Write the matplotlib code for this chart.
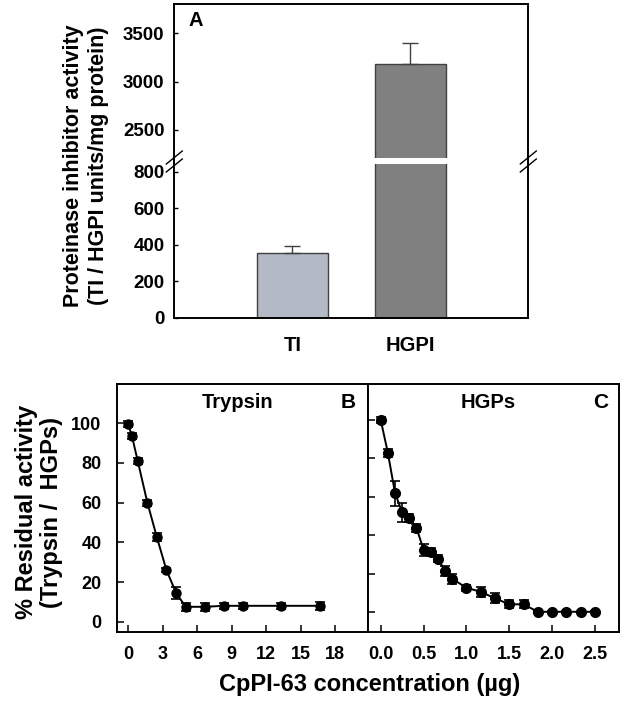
import matplotlib
matplotlib.use("Agg")
import matplotlib.pyplot as plt
from matplotlib.lines import Line2D

plt.rcParams['font.family'] = ['Liberation Sans', 'DejaVu Sans']
plt.rcParams['font.weight'] = 'bold'

# ---------------- data ----------------
cat_a = ["TI", "HGPI"]
val_a = [355, 3180]
err_a = [40, 215]
col_a = ["#b3b9c5", "#808080"]

yt_low = [0, 200, 400, 600, 800]
yt_up = [2500, 3000, 3500]

conc_b = [0, 0.33, 0.83, 1.67, 2.5, 3.33, 4.17, 5.0, 6.67, 8.33, 10.0, 13.33, 16.67]
res_b = [99.5, 93.5, 81, 60, 42.5, 26, 14.5, 7.5, 7.5, 8, 8, 8, 8]
err_b = [1.5, 1.5, 1.5, 1.5, 2, 1, 3, 2, 2, 1.5, 1.5, 1.5, 2]

conc_c = [0, 0.083, 0.167, 0.25, 0.333, 0.417, 0.5, 0.583, 0.667, 0.75, 0.833,
          1.0, 1.167, 1.333, 1.5, 1.667, 1.833, 2.0, 2.167, 2.333, 2.5]
res_c = [100, 83, 62, 52, 49, 44, 32.5, 31.5, 28, 21.5, 17.5,
         12.8, 10.7, 7.3, 4.2, 4.2, 0.3, 0.3, 0.3, 0.3, 0.3]
err_c = [1.5, 2, 6.5, 5, 2, 2, 3, 2, 2, 2.6, 2.6,
         1.5, 2.6, 2.6, 2, 2, 0.5, 0.5, 0.5, 0.5, 0.5]

xt_b = [0, 3, 6, 9, 12, 15, 18]
xt_c = [0.0, 0.5, 1.0, 1.5, 2.0, 2.5]
yt_bc = [0, 20, 40, 60, 80, 100]

W, H = 630, 713
fig = plt.figure(figsize=(W / 100, H / 100), dpi=100)

def fx(px):
    return px / W

def fy(py):
    return 1 - py / H

# ---------------- Panel A ----------------
ax_l, ax_r = 174.3, 528.3
low = fig.add_axes([fx(ax_l), fy(318), fx(ax_r - ax_l), (318 - 164.3) / H])
up = fig.add_axes([fx(ax_l), fy(158.3), fx(ax_r - ax_l), (158.3 - 4) / H])

xs = [1, 2]
for a in (low, up):
    a.bar(xs, val_a, width=0.6, color=col_a, edgecolor="#404040", linewidth=1.0, zorder=2)
    a.set_xlim(0, 3)
    for s in a.spines.values():
        s.set_linewidth(1.4)
low.errorbar(xs[0], val_a[0], yerr=[[0], [err_a[0]]], fmt='none', ecolor="#404040",
             elinewidth=1.0, capsize=6, capthick=1.0, zorder=3)
up.errorbar(xs[1], val_a[1], yerr=[[0], [err_a[1]]], fmt='none', ecolor="#404040",
            elinewidth=1.0, capsize=6, capthick=1.0, zorder=3)
low.set_ylim(0, 840)
up.set_ylim(2207, 3803)
low.set_yticks(yt_low)
up.set_yticks(yt_up)
low.spines['top'].set_visible(False)
up.spines['bottom'].set_visible(False)
up.set_xticks([])
low.set_xticks(xs)
low.set_xticklabels(cat_a, fontsize=14.5, fontweight='bold')
low.tick_params(axis='x', length=0, pad=13)
for a in (low, up):
    a.tick_params(axis='y', direction='in', length=3, width=1, labelsize=13.5, pad=7)
    for t in a.get_yticklabels():
        t.set_fontweight('bold')

# connect spines through gap and draw break marks
for xp in (ax_l, ax_r):
    fig.add_artist(Line2D([fx(xp), fx(xp)], [fy(164.3), fy(158.3)], color='black', lw=1.4))
    for yc in (157.5, 165.5):
        fig.add_artist(Line2D([fx(xp - 8), fx(xp + 8)], [fy(yc + 6.5), fy(yc - 6.5)],
                              color='black', lw=1.0))

fig.text(fx(196), fy(21), "A", fontsize=14.5, fontweight='bold', ha='center', va='center')
fig.text(fx(86), fy(166), "Proteinase inhibitor activity\n(TI / HGPI units/mg protein)",
         rotation=90, ha='center', va='center', fontsize=15.5, fontweight='bold',
         linespacing=1.2)

# ---------------- Panels B and C ----------------
bl, bm, br = 116.7, 368.3, 619.3
bt, bb = 384, 632
axb = fig.add_axes([fx(bl), fy(bb), fx(bm - bl), (bb - bt) / H])
axc = fig.add_axes([fx(bm), fy(bb), fx(br - bm), (bb - bt) / H])

axb.errorbar(conc_b, res_b, yerr=err_b, fmt='-o', color='black', lw=1.4, ms=6.5,
             capsize=3.5, elinewidth=1.2, capthick=1.2)
axc.errorbar(conc_c, res_c, yerr=err_c, fmt='-o', color='black', lw=1.4, ms=7,
             capsize=3.5, elinewidth=1.2, capthick=1.2)

axb.set_xlim(-1.0, 20.9)
axb.set_ylim(-5.2, 119.8)
axb.set_xticks(xt_b)
axb.set_xticklabels([str(v) for v in xt_b])
axb.set_yticks(yt_bc)
axb.set_yticklabels([str(v) for v in yt_bc])

axc.set_xlim(-0.145, 2.784)
axc.set_ylim(-10.2, 118.7)
axc.set_xticks(xt_c)
axc.set_xticklabels(["%.1f" % v for v in xt_c])
axc.set_yticks(yt_bc)
axc.set_yticklabels([])

for a in (axb, axc):
    for s in a.spines.values():
        s.set_linewidth(1.4)
    a.tick_params(axis='both', direction='in', length=5, width=1.1, labelsize=13)
    a.tick_params(axis='x', pad=10)
    a.tick_params(axis='y', pad=11)
    for t in a.get_xticklabels() + a.get_yticklabels():
        t.set_fontweight('bold')

fig.text(fx(238), fy(402), "Trypsin", fontsize=14.5, fontweight='bold', ha='center', va='center')
fig.text(fx(348), fy(402), "B", fontsize=15, fontweight='bold', ha='center', va='center')
fig.text(fx(488), fy(403), "HGPs", fontsize=14.5, fontweight='bold', ha='center', va='center')
fig.text(fx(601), fy(403), "C", fontsize=15, fontweight='bold', ha='center', va='center')

fig.text(fx(39), fy(512), "% Residual activity\n(Trypsin /  HGPs)", rotation=90,
         ha='center', va='center', fontsize=17, fontweight='bold', linespacing=1.15)
fig.text(fx(370), fy(684), "CpPI-63 concentration (\u00b5g)", ha='center', va='center',
         fontsize=17, fontweight='bold')

fig.savefig("out.png", dpi=100)
